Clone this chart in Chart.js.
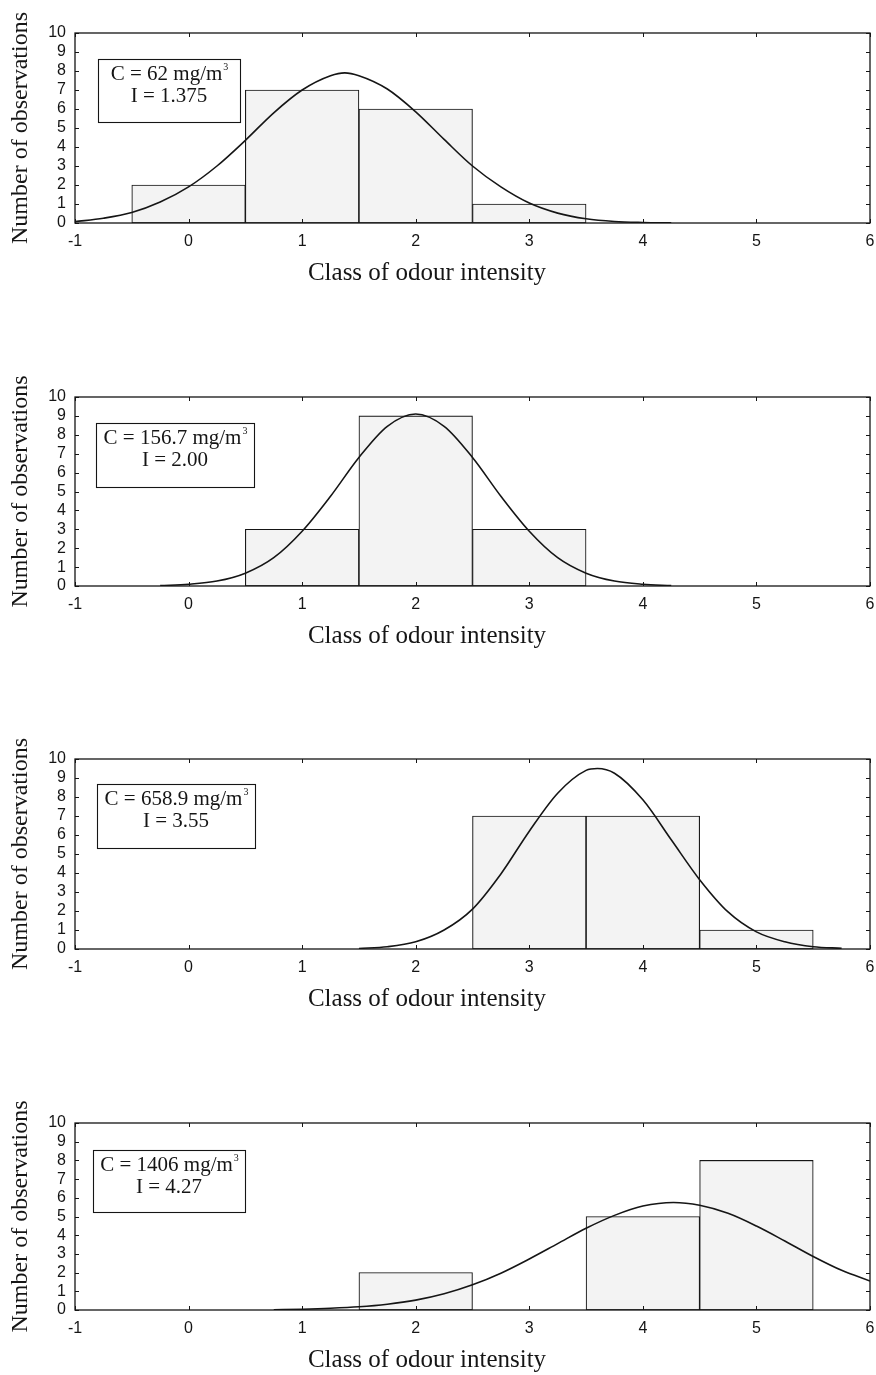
<!DOCTYPE html>
<html>
<head>
<meta charset="utf-8">
<script src="https://cdn.jsdelivr.net/npm/chart.js@4.4.1/dist/chart.umd.min.js"></script>
<style>
  body { margin: 0; background: #fff; width: 876px; height: 1375px; overflow: hidden; position: relative; }
  .panel { position: absolute; left: 0; width: 876px; }
</style>
</head>
<body>
<div class="panel" style="top:0;height:288px"><canvas id="c1"></canvas></div>
<div class="panel" style="top:364px;height:287px"><canvas id="c2"></canvas></div>
<div class="panel" style="top:726px;height:288px"><canvas id="c3"></canvas></div>
<div class="panel" style="top:1090px;height:285px"><canvas id="c4"></canvas></div>
<script>
// classes of odour intensity (histogram bins, width 1)
const classes = [0, 1, 2, 3, 4, 5];
const counts62 = [2, 7, 6, 1, 0, 0];
const counts156 = [0, 3, 9, 3, 0, 0];
const counts658 = [0, 0, 0, 7, 7, 1];
const counts1406 = [0, 0, 2, 0, 5, 8];

// fitted normal curves
const fit62X = [-1, -0.75, -0.5, -0.25, 0, 0.25, 0.5, 0.75, 1, 1.25, 1.375, 1.5, 1.75, 2, 2.25, 2.5, 2.75, 3, 3.25, 3.5, 3.75, 4, 4.25];
const fit62Y = [0.07, 0.25, 0.55, 1.1, 1.9, 3.0, 4.35, 5.8, 7.0, 7.75, 7.9, 7.75, 7.05, 5.85, 4.4, 3.0, 1.9, 1.05, 0.52, 0.22, 0.08, 0.03, 0.01];
const fit156X = [-0.25, 0, 0.25, 0.5, 0.75, 1, 1.25, 1.5, 1.75, 2, 2.25, 2.5, 2.75, 3, 3.25, 3.5, 3.75, 4, 4.25];
const fit156Y = [0.02, 0.09, 0.26, 0.68, 1.5, 2.9, 4.75, 6.8, 8.45, 9.1, 8.45, 6.8, 4.75, 2.9, 1.5, 0.68, 0.26, 0.09, 0.02];
const fit658X = [1.5, 1.75, 2, 2.25, 2.5, 2.75, 3, 3.25, 3.5, 3.6, 3.75, 4, 4.25, 4.5, 4.75, 5, 5.25, 5.5, 5.75];
const fit658Y = [0.03, 0.12, 0.38, 1.0, 2.1, 3.95, 6.2, 8.2, 9.4, 9.5, 9.25, 7.85, 5.75, 3.65, 1.95, 0.9, 0.38, 0.12, 0.04];
const fit1406X = [0.75, 1, 1.25, 1.5, 1.75, 2, 2.25, 2.5, 2.75, 3, 3.25, 3.5, 3.75, 4, 4.27, 4.5, 4.75, 5, 5.25, 5.5, 5.75, 6];
const fit1406Y = [0.01, 0.04, 0.09, 0.17, 0.31, 0.53, 0.87, 1.35, 1.97, 2.73, 3.55, 4.37, 5.06, 5.56, 5.75, 5.6, 5.17, 4.49, 3.69, 2.86, 2.12, 1.55];

const xTickValues = [-1, 0, 1, 2, 3, 4, 5, 6];
const yTickValues = [0, 1, 2, 3, 4, 5, 6, 7, 8, 9, 10];

const xTitle = "Class of odour intensity";
const yTitle = "Number of observations";
const concLabels = ["C = 62 mg/m", "C = 156.7 mg/m", "C = 658.9 mg/m", "C = 1406 mg/m"];
const intensityLabels = ["I = 1.375", "I = 2.00", "I = 3.55", "I = 4.27"];

const ink = "#151515";
const barFill = "#f3f3f3";
const serif = "'Liberation Serif', 'Times New Roman', serif";
const sans = "'Liberation Sans', Arial, sans-serif";

// frame with inward ticks, the x title (sits left of centre) and the C / I text box
const framePlugin = {
  id: "frame",
  afterDraw(chart, args, opts) {
    const { ctx, chartArea: a, scales } = chart;
    const x = scales.x, y = scales.y;
    ctx.save();
    ctx.strokeStyle = ink;
    ctx.lineWidth = 1.3;
    ctx.strokeRect(a.left, a.top, a.width, a.height);
    ctx.lineWidth = 1;
    ctx.beginPath();
    xTickValues.forEach((v) => {
      const px = Math.round(x.getPixelForValue(v)) + 0.5;
      ctx.moveTo(px, a.top); ctx.lineTo(px, a.top + 4);
      ctx.moveTo(px, a.bottom); ctx.lineTo(px, a.bottom - 4);
    });
    yTickValues.forEach((v) => {
      const py = Math.round(y.getPixelForValue(v)) + 0.5;
      ctx.moveTo(a.left, py); ctx.lineTo(a.left + 4, py);
      ctx.moveTo(a.right, py); ctx.lineTo(a.right - 4, py);
    });
    ctx.stroke();

    ctx.fillStyle = ink;
    ctx.font = "25px " + serif;
    ctx.textAlign = "center";
    ctx.textBaseline = "middle";
    ctx.fillText(xTitle, a.left + 352, a.bottom + 50);

    const b = opts.box;
    const bx = a.left + b.left, by = a.top + b.top;
    ctx.lineWidth = 1.1;
    ctx.strokeRect(bx + 0.5, by + 0.5, b.w, b.h);
    ctx.textBaseline = "alphabetic";
    ctx.font = "21px " + serif;
    const w1 = ctx.measureText(opts.conc).width;
    ctx.font = "10px " + serif;
    const ws = ctx.measureText("3").width;
    const sx = bx + (b.w - w1 - ws) / 2;
    ctx.font = "21px " + serif;
    ctx.textAlign = "left";
    ctx.fillText(opts.conc, sx, by + 21);
    ctx.font = "10px " + serif;
    ctx.fillText("3", sx + w1 + 1, by + 11);
    ctx.font = "21px " + serif;
    ctx.textAlign = "center";
    ctx.fillText(opts.inten, bx + b.w / 2, by + 43);
    ctx.restore();
  },
};

const panels = [
  { id: "c1", counts: counts62, fx: fit62X, fy: fit62Y, box: { left: 23, top: 26, w: 142, h: 63 } },
  { id: "c2", counts: counts156, fx: fit156X, fy: fit156Y, box: { left: 21, top: 26, w: 158, h: 64 } },
  { id: "c3", counts: counts658, fx: fit658X, fy: fit658Y, box: { left: 22, top: 25, w: 158, h: 64 } },
  { id: "c4", counts: counts1406, fx: fit1406X, fy: fit1406Y, box: { left: 18, top: 27, w: 152, h: 62 } },
];

panels.forEach((p, i) => {
  new Chart(document.getElementById(p.id), {
    type: "bar",
    data: {
      datasets: [
        {
          type: "line",
          data: p.fx.map((x, k) => ({ x: x, y: p.fy[k] })),
          borderColor: ink,
          borderWidth: 1.6,
          pointRadius: 0,
          fill: false,
          cubicInterpolationMode: "monotone",
          order: 0,
        },
        {
          data: classes.map((c, k) => ({ x: c, y: p.counts[k] })),
          backgroundColor: barFill,
          borderColor: ink,
          borderWidth: 1.1,
          borderSkipped: false,
          barPercentage: 1,
          categoryPercentage: 1,
          grouped: false,
          order: 1,
        },
      ],
    },
    options: {
      responsive: true,
      maintainAspectRatio: false,
      animation: false,
      layout: { padding: { top: 33, right: 6, left: 0, bottom: 0 } },
      plugins: {
        legend: { display: false },
        tooltip: { enabled: false },
        frame: { conc: concLabels[i], inten: intensityLabels[i], box: p.box },
      },
      scales: {
        x: {
          type: "linear",
          min: -1,
          max: 6,
          offset: false,
          afterFit: (s) => { s.height = 65; s.paddingRight = 0; s.paddingLeft = 0; },
          grid: { display: false, drawTicks: false },
          border: { display: false },
          ticks: { stepSize: 1, padding: 9, autoSkip: false, maxRotation: 0, color: ink, font: { family: sans, size: 16 } },
          title: { display: false },
        },
        y: {
          min: 0,
          max: 10,
          afterFit: (s) => { s.width = 75; s.paddingTop = 0; s.paddingBottom = 0; },
          grid: { display: false, drawTicks: false },
          border: { display: false },
          ticks: { stepSize: 1, padding: 9, autoSkip: false, color: ink, font: { family: sans, size: 16, lineHeight: 1 } },
          title: { display: true, text: yTitle, color: ink, font: { family: serif, size: 24 }, padding: { top: 6, bottom: 0 } },
        },
      },
    },
    plugins: [framePlugin],
  });
});
</script>
</body>
</html>
